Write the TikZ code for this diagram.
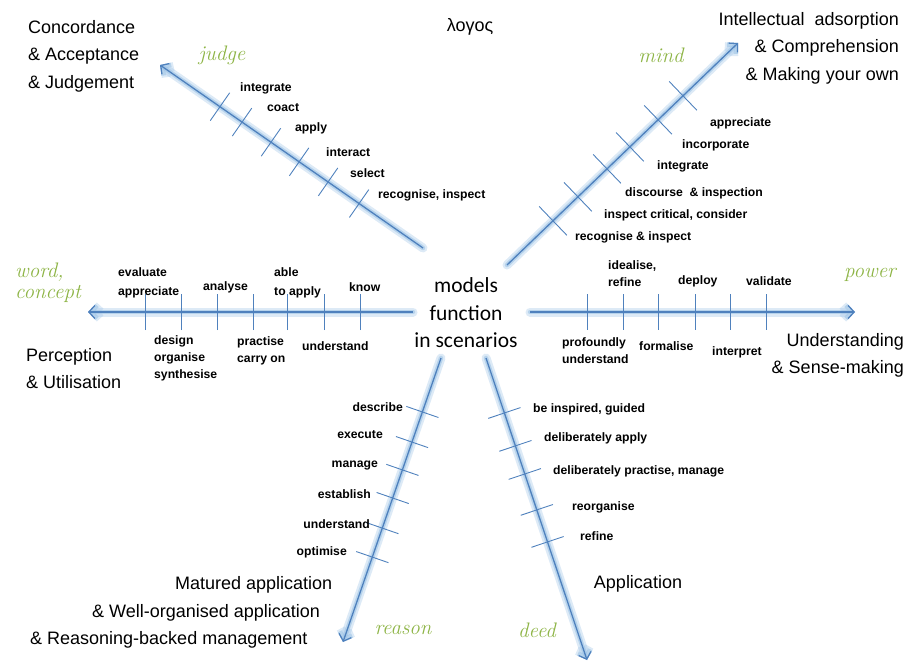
\documentclass[tikz,border=0pt]{standalone}
\usepackage{fontspec}
\newfontfamily\arial{Liberation Sans}
\newfontfamily\calib{Carlito}
\usetikzlibrary{arrows.meta,calc}
\definecolor{axisblue}{HTML}{4F81BD}
\definecolor{glowblue}{HTML}{9DC3E6}
\definecolor{leafgreen}{HTML}{8DB445}

\tikzset{
  barb/.style={-{Straight Barb[length=6pt,width=13pt]}},
  halo/.style={barb, line width=9pt, glowblue, opacity=0.35, line cap=round, line join=round},
  halocore/.style={barb, line width=4.5pt, glowblue, opacity=0.6, line cap=round, line join=round},
  axis/.style={barb, line width=1.3pt, axisblue},
  tickmark/.style={line width=0.9pt, axisblue},
  stage/.style={font=\arial\bfseries\fontsize{12.2}{17}\selectfont, inner sep=0pt, text=black},
  stagewide/.style={stage, font=\arial\bfseries\fontsize{12.2}{19}\selectfont},
  realm/.style={font=\arial\fontsize{18}{27.5}\selectfont, inner sep=0pt},
  faculty/.style={font=\rmfamily\itshape\fontsize{21}{21}\selectfont, text=leafgreen, inner sep=0pt},
}

% glowing axis from #1 to #2
\newcommand{\glowaxis}[2]{%
  \draw[halo] (#1) -- (#2);
  \draw[halocore] (#1) -- (#2);
  \draw[axis] (#1) -- (#2);}
% cross ticks along the axis #1 -> #2, half length #3, positions #4
\newcommand{\axisticks}[4]{%
  \foreach \p in {#4}{%
    \draw[tickmark] ($(#1)!\p!(#2)!#3!90:(#2)$) -- ($(#1)!\p!(#2)!#3!-90:(#2)$);}}

\begin{document}
\begin{tikzpicture}[x=1pt,y=-1pt]
\useasboundingbox (0,0) rectangle (909,666);

% centre
\node[font=\calib\fontsize{21.5}{27.5}\selectfont, align=center, inner sep=0pt] (hub) at (466,313) {models\\function\\in scenarios};

% axis end points
\coordinate (judgeS) at (423,248);  \coordinate (judgeE) at (160,65);
\coordinate (mindS)  at (507,265);  \coordinate (mindE)  at (738,43);
\coordinate (wordS)  at (413,312);  \coordinate (wordE)  at (88,312);
\coordinate (powerS) at (530,312);  \coordinate (powerE) at (855,312);
\coordinate (reasonS) at (441,358); \coordinate (reasonE) at (343,642);
\coordinate (deedS)  at (486,358);  \coordinate (deedE)  at (587,660);

\glowaxis{judgeS}{judgeE}
\glowaxis{mindS}{mindE}
\glowaxis{wordS}{wordE}
\glowaxis{powerS}{powerE}
\glowaxis{reasonS}{reasonE}
\glowaxis{deedS}{deedE}

\axisticks{judgeS}{judgeE}{17pt}{0.772,0.688,0.578,0.471,0.361,0.243}
\axisticks{mindS}{mindE}{20pt}{0.762,0.654,0.532,0.433,0.307,0.199}
\axisticks{wordS}{wordE}{18pt}{0.822,0.711,0.603,0.492,0.385,0.274,0.163}
\axisticks{powerS}{powerE}{18pt}{0.178,0.286,0.394,0.508,0.618,0.726}
\axisticks{reasonS}{reasonE}{17pt}{0.190,0.296,0.394,0.493,0.599,0.701}
\axisticks{deedS}{deedE}{17pt}{0.182,0.291,0.384,0.503,0.609}

% judge stages
\node[stage, anchor=west] (j1) at (240,88) {integrate};
\node[stage, anchor=west] (j2) at (267,108) {coact};
\node[stage, anchor=west] (j3) at (295,128) {apply};
\node[stage, anchor=west] (j4) at (326,152) {interact};
\node[stage, anchor=west] (j5) at (350,173) {select};
\node[stage, anchor=west] (j6) at (378,195) {recognise, inspect};

% mind stages
\node[stage, anchor=west] (m1) at (710,123) {appreciate};
\node[stage, anchor=west] (m2) at (682,145) {incorporate};
\node[stage, anchor=west] (m3) at (657,166) {integrate};
\node[stage, anchor=west] (m4) at (625,193) {discourse~~\& inspection};
\node[stage, anchor=west] (m5) at (604,215) {inspect critical, consider};
\node[stage, anchor=west] (m6) at (575,237) {recognise \& inspect};

% word stages
\node[stagewide, anchor=west, align=left] (w1) at (118,282.5) {evaluate\\appreciate};
\node[stage, anchor=west] (w2) at (203,287) {analyse};
\node[stagewide, anchor=west, align=left] (w3) at (274,282.5) {able\\to apply};
\node[stage, anchor=west] (w4) at (349,287) {know};
\node[stage, anchor=west, align=left] (w5) at (154,358) {design\\organise\\synthesise};
\node[stage, anchor=west, align=left] (w6) at (237,351) {practise\\carry on};
\node[stage, anchor=west] (w7) at (302,346) {understand};

% power stages
\node[stage, anchor=west, align=left] (p1) at (608,273.5) {idealise,\\refine};
\node[stage, anchor=west] (p2) at (678,281) {deploy};
\node[stage, anchor=west] (p3) at (746,281) {validate};
\node[stage, anchor=west, align=left] (p4) at (562,350.5) {profoundly\\understand};
\node[stage, anchor=west] (p5) at (639,346) {formalise};
\node[stage, anchor=west] (p6) at (712,352) {interpret};

% reason stages
\node[stage, anchor=east] (r1) at (403,407) {describe};
\node[stage, anchor=east] (r2) at (383,435) {execute};
\node[stage, anchor=east] (r3) at (378,466) {manage};
\node[stage, anchor=east] (r4) at (371,494) {establish};
\node[stage, anchor=east] (r5) at (370,524) {understand};
\node[stage, anchor=east] (r6) at (347,552) {optimise};

% deed stages
\node[stage, anchor=west] (d1) at (533,409) {be inspired, guided};
\node[stage, anchor=west] (d2) at (544,438) {deliberately apply};
\node[stage, anchor=west] (d3) at (553,471) {deliberately practise, manage};
\node[stage, anchor=west] (d4) at (572,507) {reorganise};
\node[stage, anchor=west] (d5) at (580,536) {refine};

% realms
\node[realm] (logos) at (470,27) {λογος};
\node[realm, anchor=west, align=left] (concord) at (28,56) {Concordance\\\& Acceptance\\\& Judgement};
\node[realm, anchor=east, align=right] (intellect) at (899,48) {Intellectual~~adsorption\\\& Comprehension\\\& Making your own};
\node[realm, anchor=west, align=left] (percept) at (26,368.5) {Perception\\\& Utilisation};
\node[realm, anchor=east, align=right] (underst) at (904,355.5) {Understanding\\\& Sense-making};
\node[realm, anchor=west] (matured1) at (175,585) {Matured application};
\node[realm, anchor=west] (matured2) at (92,613) {\& Well-organised application};
\node[realm, anchor=west] (matured3) at (30,640) {\& Reasoning-backed management};
\node[realm] (applic) at (638,584) {Application};

% faculties
\node[faculty] (fjudge) at (222,55) {judge};
\node[faculty] (fmind) at (661,55) {mind};
\node[faculty, anchor=west, align=left] (fword) at (15,282.5) {word,\\concept};
\node[faculty] (fpower) at (870,275) {power};
\node[faculty] (freason) at (403,630) {reason};
\node[faculty] (fdeed) at (537,630) {deed};
\end{tikzpicture}
\end{document}
